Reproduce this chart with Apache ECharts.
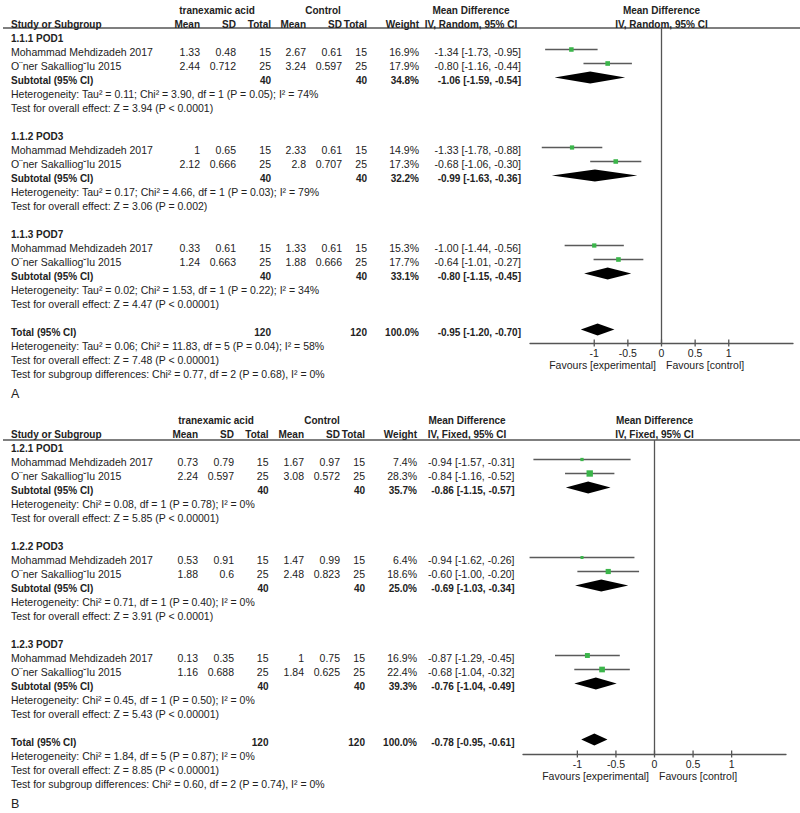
<!DOCTYPE html>
<html><head><meta charset="utf-8">
<script src="https://cdn.jsdelivr.net/npm/echarts@6/dist/echarts.min.js"></script>
<style>html,body{margin:0;padding:0;background:#fff}#c{width:800px;height:813px}</style>
</head><body><div id="c"></div>
<script>
// ---------------- DATA ----------------
const studyNames = ["Mohammad Mehdizadeh 2017", "O\u00A8ner Sakalliog\u02D8lu 2015"];
const tickValues = [-1, -0.5, 0, 0.5, 1];
const tickLabels = ["-1", "-0.5", "0", "0.5", "1"];
const favoursLeft = "Favours [experimental]";
const favoursRight = "Favours [control]";

// Panel A
const A_label = "A";
const A_method = "IV, Random, 95% CI";
const A_subgroups = ["1.1.1 POD1", "1.1.2 POD3", "1.1.3 POD7"];
const A_meanE = [[1.33, 2.44], [1, 2.12], [0.33, 1.24]];
const A_sdE = [[0.48, 0.712], [0.65, 0.666], [0.61, 0.663]];
const A_nE = [[15, 25], [15, 25], [15, 25]];
const A_meanC = [[2.67, 3.24], [2.33, 2.8], [1.33, 1.88]];
const A_sdC = [[0.61, 0.597], [0.61, 0.707], [0.61, 0.666]];
const A_nC = [[15, 25], [15, 25], [15, 25]];
const A_weight = [[16.9, 17.9], [14.9, 17.3], [15.3, 17.7]];
const A_md = [[-1.34, -0.80], [-1.33, -0.68], [-1.00, -0.64]];
const A_lo = [[-1.73, -1.16], [-1.78, -1.06], [-1.44, -1.01]];
const A_hi = [[-0.95, -0.44], [-0.88, -0.30], [-0.56, -0.27]];
const A_subWeight = [34.8, 32.2, 33.1];
const A_subMd = [-1.06, -0.99, -0.80];
const A_subLo = [-1.59, -1.63, -1.15];
const A_subHi = [-0.54, -0.36, -0.45];
const A_het = ["Heterogeneity: Tau\u00B2 = 0.11; Chi\u00B2 = 3.90, df = 1 (P = 0.05); I\u00B2 = 74%",
               "Heterogeneity: Tau\u00B2 = 0.17; Chi\u00B2 = 4.66, df = 1 (P = 0.03); I\u00B2 = 79%",
               "Heterogeneity: Tau\u00B2 = 0.02; Chi\u00B2 = 1.53, df = 1 (P = 0.22); I\u00B2 = 34%"];
const A_test = ["Test for overall effect: Z = 3.94 (P < 0.0001)",
                "Test for overall effect: Z = 3.06 (P = 0.002)",
                "Test for overall effect: Z = 4.47 (P < 0.00001)"];
const A_totN = [120, 120];
const A_totWeight = 100.0;
const A_totMd = [-0.95, -1.20, -0.70];
const A_totLines = ["Heterogeneity: Tau\u00B2 = 0.06; Chi\u00B2 = 11.83, df = 5 (P = 0.04); I\u00B2 = 58%",
                    "Test for overall effect: Z = 7.48 (P < 0.00001)",
                    "Test for subgroup differences: Chi\u00B2 = 0.77, df = 2 (P = 0.68), I\u00B2 = 0%"];

// Panel B
const B_label = "B";
const B_method = "IV, Fixed, 95% CI";
const B_subgroups = ["1.2.1 POD1", "1.2.2 POD3", "1.2.3 POD7"];
const B_meanE = [[0.73, 2.24], [0.53, 1.88], [0.13, 1.16]];
const B_sdE = [[0.79, 0.597], [0.91, 0.6], [0.35, 0.688]];
const B_nE = [[15, 25], [15, 25], [15, 25]];
const B_meanC = [[1.67, 3.08], [1.47, 2.48], [1, 1.84]];
const B_sdC = [[0.97, 0.572], [0.99, 0.823], [0.75, 0.625]];
const B_nC = [[15, 25], [15, 25], [15, 25]];
const B_weight = [[7.4, 28.3], [6.4, 18.6], [16.9, 22.4]];
const B_md = [[-0.94, -0.84], [-0.94, -0.60], [-0.87, -0.68]];
const B_lo = [[-1.57, -1.16], [-1.62, -1.00], [-1.29, -1.04]];
const B_hi = [[-0.31, -0.52], [-0.26, -0.20], [-0.45, -0.32]];
const B_subWeight = [35.7, 25.0, 39.3];
const B_subMd = [-0.86, -0.69, -0.76];
const B_subLo = [-1.15, -1.03, -1.04];
const B_subHi = [-0.57, -0.34, -0.49];
const B_het = ["Heterogeneity: Chi\u00B2 = 0.08, df = 1 (P = 0.78); I\u00B2 = 0%",
               "Heterogeneity: Chi\u00B2 = 0.71, df = 1 (P = 0.40); I\u00B2 = 0%",
               "Heterogeneity: Chi\u00B2 = 0.45, df = 1 (P = 0.50); I\u00B2 = 0%"];
const B_test = ["Test for overall effect: Z = 5.85 (P < 0.00001)",
                "Test for overall effect: Z = 3.91 (P < 0.0001)",
                "Test for overall effect: Z = 5.43 (P < 0.00001)"];
const B_totN = [120, 120];
const B_totWeight = 100.0;
const B_totMd = [-0.78, -0.95, -0.61];
const B_totLines = ["Heterogeneity: Chi\u00B2 = 1.84, df = 5 (P = 0.87); I\u00B2 = 0%",
                    "Test for overall effect: Z = 8.85 (P < 0.00001)",
                    "Test for subgroup differences: Chi\u00B2 = 0.60, df = 2 (P = 0.74), I\u00B2 = 0%"];

// ---------------- LAYOUT ----------------
const FONT = '"Liberation Sans", Arial, Helvetica, sans-serif';
const TXT = '#222';
const GREEN = '#3bb54a';
const LINE = '#555';
const ROW_H = 14, TXT_DY = 2.5;

const panels = [
  { D: { label: A_label, method: A_method, subgroups: A_subgroups, meanE: A_meanE, sdE: A_sdE, nE: A_nE,
         meanC: A_meanC, sdC: A_sdC, nC: A_nC, weight: A_weight, md: A_md, lo: A_lo, hi: A_hi,
         subW: A_subWeight, subMd: A_subMd, subLo: A_subLo, subHi: A_subHi, het: A_het, test: A_test,
         totN: A_totN, totW: A_totWeight, totMd: A_totMd, totLines: A_totLines },
    L: { gridLeft: 530, gridRight: 793, gridTop: 28, gridBottom: 343, row0: 35.5, xr: 1.955, sq: 1.1,
         study: 11, mE: 200, sdE: 236, nE: 271, mC: 306, sdC: 342, nC: 367, w: 419, mdv: 521,
         trx: 217, ctl: 323, mdh: 471 } },
  { D: { label: B_label, method: B_method, subgroups: B_subgroups, meanE: B_meanE, sdE: B_sdE, nE: B_nE,
         meanC: B_meanC, sdC: B_sdC, nC: B_nC, weight: B_weight, md: B_md, lo: B_lo, hi: B_hi,
         subW: B_subWeight, subMd: B_subMd, subLo: B_subLo, subHi: B_subHi, het: B_het, test: B_test,
         totN: B_totN, totW: B_totWeight, totMd: B_totMd, totLines: B_totLines },
    L: { gridLeft: 523, gridRight: 786, gridTop: 440, gridBottom: 754, row0: 445.5, xr: 1.705, sq: 1.2,
         study: 11, mE: 198, sdE: 234, nE: 268.5, mC: 304, sdC: 340, nC: 365, w: 417, mdv: 514.5,
         trx: 216, ctl: 322, mdh: 467 } }
];

function ci(m, l, h) { return m.toFixed(2) + ' [' + l.toFixed(2) + ', ' + h.toFixed(2) + ']'; }

function buildTexts(D, L) {
  const t = [];
  const add = (r, x, s, a, b, fs) => t.push({ r, x, s, a: a || 'left', b: !!b, fs: fs || (b ? 10 : 10.5) });
  add(-2, L.trx, 'tranexamic acid', 'center', true);
  add(-2, L.ctl, 'Control', 'center', true);
  add(-2, L.mdh, 'Mean Difference', 'center', true);
  add(-2, 'zero', 'Mean Difference', 'center', true);
  add(-1, L.study, 'Study or Subgroup', 'left', true);
  add(-1, L.mE, 'Mean', 'right', true);
  add(-1, L.sdE, 'SD', 'right', true);
  add(-1, L.nE, 'Total', 'right', true);
  add(-1, L.mC, 'Mean', 'right', true);
  add(-1, L.sdC, 'SD', 'right', true);
  add(-1, L.nC, 'Total', 'right', true);
  add(-1, L.w, 'Weight', 'right', true);
  add(-1, L.mdh, D.method, 'center', true);
  add(-1, 'zero', D.method, 'center', true);
  for (let g = 0; g < 3; g++) {
    const base = 7 * g;
    add(base, L.study, D.subgroups[g], 'left', true);
    let sE = 0, sC = 0;
    for (let s = 0; s < 2; s++) {
      const r = base + 1 + s;
      sE += D.nE[g][s]; sC += D.nC[g][s];
      add(r, L.study, studyNames[s]);
      add(r, L.mE, String(D.meanE[g][s]), 'right');
      add(r, L.sdE, String(D.sdE[g][s]), 'right');
      add(r, L.nE, String(D.nE[g][s]), 'right');
      add(r, L.mC, String(D.meanC[g][s]), 'right');
      add(r, L.sdC, String(D.sdC[g][s]), 'right');
      add(r, L.nC, String(D.nC[g][s]), 'right');
      add(r, L.w, D.weight[g][s].toFixed(1) + '%', 'right');
      add(r, L.mdv, ci(D.md[g][s], D.lo[g][s], D.hi[g][s]), 'right');
    }
    add(base + 3, L.study, 'Subtotal (95% CI)', 'left', true);
    add(base + 3, L.nE, String(sE), 'right', true);
    add(base + 3, L.nC, String(sC), 'right', true);
    add(base + 3, L.w, D.subW[g].toFixed(1) + '%', 'right', true);
    add(base + 3, L.mdv, ci(D.subMd[g], D.subLo[g], D.subHi[g]), 'right', true);
    add(base + 4, L.study, D.het[g]);
    add(base + 5, L.study, D.test[g]);
  }
  add(21, L.study, 'Total (95% CI)', 'left', true);
  add(21, L.nE, String(D.totN[0]), 'right', true);
  add(21, L.nC, String(D.totN[1]), 'right', true);
  add(21, L.w, D.totW.toFixed(1) + '%', 'right', true);
  add(21, L.mdv, ci(D.totMd[0], D.totMd[1], D.totMd[2]), 'right', true);
  for (let i = 0; i < 3; i++) add(22 + i, L.study, D.totLines[i]);
  add(25.45, L.study, D.label, 'left', false, 12.5);
  return t;
}

const grids = [], xAxes = [], yAxes = [], series = [];
panels.forEach((P, pi) => {
  const D = P.D, L = P.L;
  const yMin = (L.gridTop - L.row0) / ROW_H;
  const yMax = (L.gridBottom - L.row0) / ROW_H;
  grids.push({ left: L.gridLeft, top: L.gridTop, width: L.gridRight - L.gridLeft,
               height: L.gridBottom - L.gridTop, outerBoundsMode: 'none', containLabel: false });
  xAxes.push({ gridIndex: pi, type: 'value', min: -L.xr, max: L.xr,
               axisLine: { show: true, onZero: false, lineStyle: { color: LINE, width: 1.3 } },
               axisTick: { show: false }, axisLabel: { show: false }, splitLine: { show: false } });
  yAxes.push({ gridIndex: pi, type: 'value', min: yMin, max: yMax, inverse: true, show: false,
               splitLine: { show: false } });

  const common = { xAxisIndex: pi, yAxisIndex: pi, silent: true, animation: false };

  // study points + CI whiskers
  const studyData = [], sqData = [], dmData = [];
  for (let g = 0; g < 3; g++) {
    for (let s = 0; s < 2; s++) {
      const r = 7 * g + 1 + s;
      studyData.push([D.md[g][s], r, D.lo[g][s], D.hi[g][s]]);
      sqData.push([D.md[g][s], r, D.weight[g][s]]);
    }
    dmData.push([D.subMd[g], 7 * g + 3, D.subLo[g], D.subHi[g]]);
  }
  dmData.push([D.totMd[0], 21, D.totMd[1], D.totMd[2]]);

  // zero line
  series.push(Object.assign({ type: 'line', data: [[0, yMin], [0, yMax]], symbol: 'none',
    lineStyle: { color: LINE, width: 1.3 }, z: 1 }, common));

  series.push(Object.assign({ type: 'custom', data: studyData, clip: false, z: 2,
    renderItem: (params, api) => {
      const a = api.coord([api.value(2), api.value(1)]);
      const b = api.coord([api.value(3), api.value(1)]);
      return { type: 'line', shape: { x1: a[0], y1: a[1], x2: b[0], y2: b[1] },
               style: { stroke: '#5a5a5a', lineWidth: 1.3 } };
    } }, common));

  series.push(Object.assign({ type: 'scatter', data: sqData, symbol: 'rect', z: 3,
    symbolSize: v => L.sq * Math.sqrt(v[2]), itemStyle: { color: GREEN, opacity: 1 } }, common));

  series.push(Object.assign({ type: 'custom', data: dmData, clip: false, z: 3,
    renderItem: (params, api) => {
      const r = api.value(1);
      const m = api.coord([api.value(0), r]);
      const l = api.coord([api.value(2), r]);
      const h = api.coord([api.value(3), r]);
      const hh = 6;
      return { type: 'polygon', shape: { points: [[l[0], l[1]], [m[0], m[1] - hh], [h[0], h[1]], [m[0], m[1] + hh]] },
               style: { fill: '#000' } };
    } }, common));

  // ticks + tick labels
  series.push(Object.assign({ type: 'custom', data: tickValues.map((v, i) => [v, yMax, i]), clip: false, z: 3,
    renderItem: (params, api) => {
      const p = api.coord([api.value(0), api.value(1)]);
      return { type: 'group', children: [
        { type: 'line', shape: { x1: p[0], y1: p[1] - 3.5, x2: p[0], y2: p[1] + 3.5 },
          style: { stroke: LINE, lineWidth: 1.3 } },
        { type: 'text', x: p[0], y: p[1] + 10,
          style: { text: tickLabels[api.value(2)], fill: TXT, font: '10.5px ' + FONT,
                   align: 'center', textAlign: 'center', verticalAlign: 'middle', textVerticalAlign: 'middle' } }
      ] };
    } }, common));

  // favours labels
  series.push(Object.assign({ type: 'custom', data: [[0, yMax]], clip: false, z: 3,
    renderItem: (params, api) => {
      const p = api.coord([api.value(0), api.value(1)]);
      return { type: 'group', children: [
        { type: 'text', x: p[0] - 5.5, y: p[1] + 22,
          style: { text: favoursLeft, fill: TXT, font: '10.5px ' + FONT,
                   align: 'right', textAlign: 'right', verticalAlign: 'middle', textVerticalAlign: 'middle' } },
        { type: 'text', x: p[0] + 4.5, y: p[1] + 22,
          style: { text: favoursRight, fill: TXT, font: '10.5px ' + FONT,
                   align: 'left', textAlign: 'left', verticalAlign: 'middle', textVerticalAlign: 'middle' } }
      ] };
    } }, common));

  // header rule
  series.push(Object.assign({ type: 'custom', data: [[0, yMin]], clip: false, z: 3,
    renderItem: (params, api) => {
      const p = api.coord([api.value(0), api.value(1)]);
      return { type: 'line', shape: { x1: 3, y1: p[1], x2: 800, y2: p[1] },
               style: { stroke: LINE, lineWidth: 1.4 } };
    } }, common));

  // table text
  const texts = buildTexts(D, L);
  series.push(Object.assign({ type: 'custom', data: texts.map((e, i) => [0, e.r, i]), clip: false, z: 4,
    renderItem: (params, api) => {
      const e = texts[api.value(2)];
      const p = api.coord([0, e.r]);
      const x = e.x === 'zero' ? p[0] : e.x;
      return { type: 'text', x: x, y: p[1] + TXT_DY,
               style: { text: e.s, fill: TXT, font: (e.b ? 'bold ' : '') + e.fs + 'px ' + FONT,
                        align: e.a, textAlign: e.a, verticalAlign: 'middle', textVerticalAlign: 'middle' } };
    } }, common));
});

const chart = echarts.init(document.getElementById('c'), null, { renderer: 'svg' });
chart.setOption({
  backgroundColor: '#fff',
  animation: false,
  tooltip: { show: false },
  grid: grids, xAxis: xAxes, yAxis: yAxes, series: series
});
</script>
</body></html>
